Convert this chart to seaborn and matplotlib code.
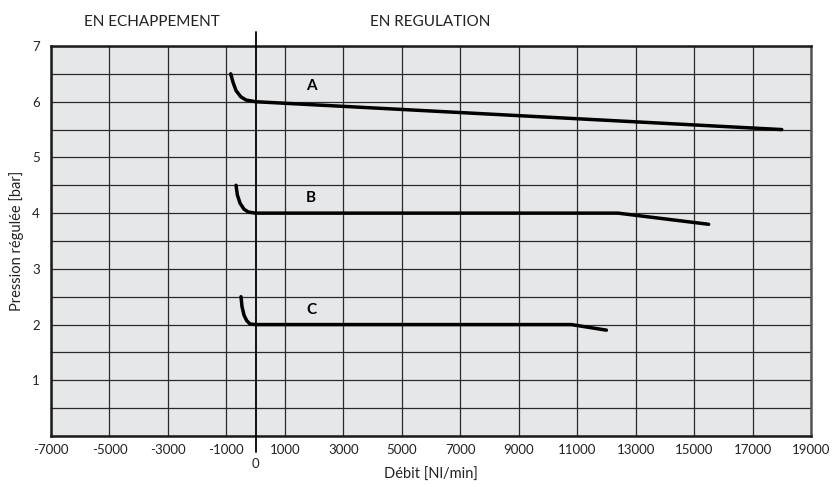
import numpy as np
import pandas as pd
import matplotlib
matplotlib.use('Agg')
import matplotlib.pyplot as plt
import seaborn as sns

# valeurs
debit_a = [-850, -780, -670, -510, -330, 0, 18000]
pression_a = [6.5, 6.36, 6.2, 6.09, 6.03, 6.0, 5.5]
debit_b = [-670, -626, -534, -397, -250, 0, 12400, 15500]
pression_b = [4.5, 4.33, 4.18, 4.07, 4.02, 4.0, 4.0, 3.8]
debit_c = [-500, -465, -397, -305, -192, 0, 10800, 12000]
pression_c = [2.5, 2.32, 2.17, 2.07, 2.01, 2.0, 2.0, 1.9]

courbes = ['A', 'B', 'C']
label_pos = [(1900, 6.28), (1900, 4.27), (1900, 2.26)]

x_ticks = list(range(-7000, 19001, 2000))
y_ticks = [i / 2 for i in range(0, 15)]

df = pd.concat([
    pd.DataFrame({'debit': debit_a, 'pression': pression_a, 'courbe': 'A'}),
    pd.DataFrame({'debit': debit_b, 'pression': pression_b, 'courbe': 'B'}),
    pd.DataFrame({'debit': debit_c, 'pression': pression_c, 'courbe': 'C'}),
], ignore_index=True)

sns.set_style('white', {'axes.facecolor': '#e6e7e9'})
plt.rcParams['font.family'] = ['Lato', 'DejaVu Sans']

fig = plt.figure(figsize=(8.32, 4.92), dpi=100)
ax = fig.add_axes([51 / 832, 1 - 436 / 492, 760 / 832, 390 / 492])

sns.lineplot(data=df, x='debit', y='pression', units='courbe', estimator=None,
             sort=False, color='black', linewidth=2.5, ax=ax, zorder=5)

ax.set_xlim(-7000, 19000)
ax.set_ylim(0, 7)
ax.set_xticks(x_ticks)
ax.set_xticklabels([str(v) for v in x_ticks])
ax.set_yticks(y_ticks)
ax.set_yticklabels([str(int(v)) if v == int(v) and v > 0 else '' for v in y_ticks])
ax.set_xticks([0], minor=True)
ax.set_xticklabels(['0'], minor=True)
ax.tick_params(axis='both', which='both', length=0, labelsize=9.5, colors='#222222')
ax.tick_params(axis='x', which='major', pad=6)
ax.tick_params(axis='x', which='minor', pad=16)
ax.tick_params(axis='y', pad=8)

ax.grid(True, which='major', color='#2a2a2a', linewidth=0.9)
ax.set_axisbelow(True)

for side in ['left', 'bottom', 'top']:
    ax.spines[side].set_color('#1a1a1a')
    ax.spines[side].set_linewidth(1.8)
ax.spines['right'].set_color('#555555')
ax.spines['right'].set_linewidth(1.8)

# axe du zéro qui dépasse du cadre
ax.axvline(0, ymin=-0.041, ymax=1.036, color='black', linewidth=1.3,
           clip_on=False, zorder=4)

for nom, (lx, ly) in zip(courbes, label_pos):
    ax.text(lx, ly, nom, fontsize=11, fontweight='bold', ha='center',
            va='center', color='black')

ax.set_xlabel('Débit [Nl/min]', fontsize=10.5, color='#222222')
ax.xaxis.set_label_coords(0.5, -0.1)
ax.xaxis.label.set_va('center')
ax.set_ylabel('Pression régulée [bar]', fontsize=10.5, color='#222222')
ax.yaxis.set_label_coords(-34 / 760, 0.5)
ax.yaxis.label.set_va('center')

fig.text(152 / 832, 1 - 22 / 492, 'EN ECHAPPEMENT', fontsize=11,
         ha='center', va='center', color='#222222')
fig.text(430 / 832, 1 - 22 / 492, 'EN REGULATION', fontsize=11,
         ha='center', va='center', color='#222222')

fig.savefig('out.png', dpi=100)
